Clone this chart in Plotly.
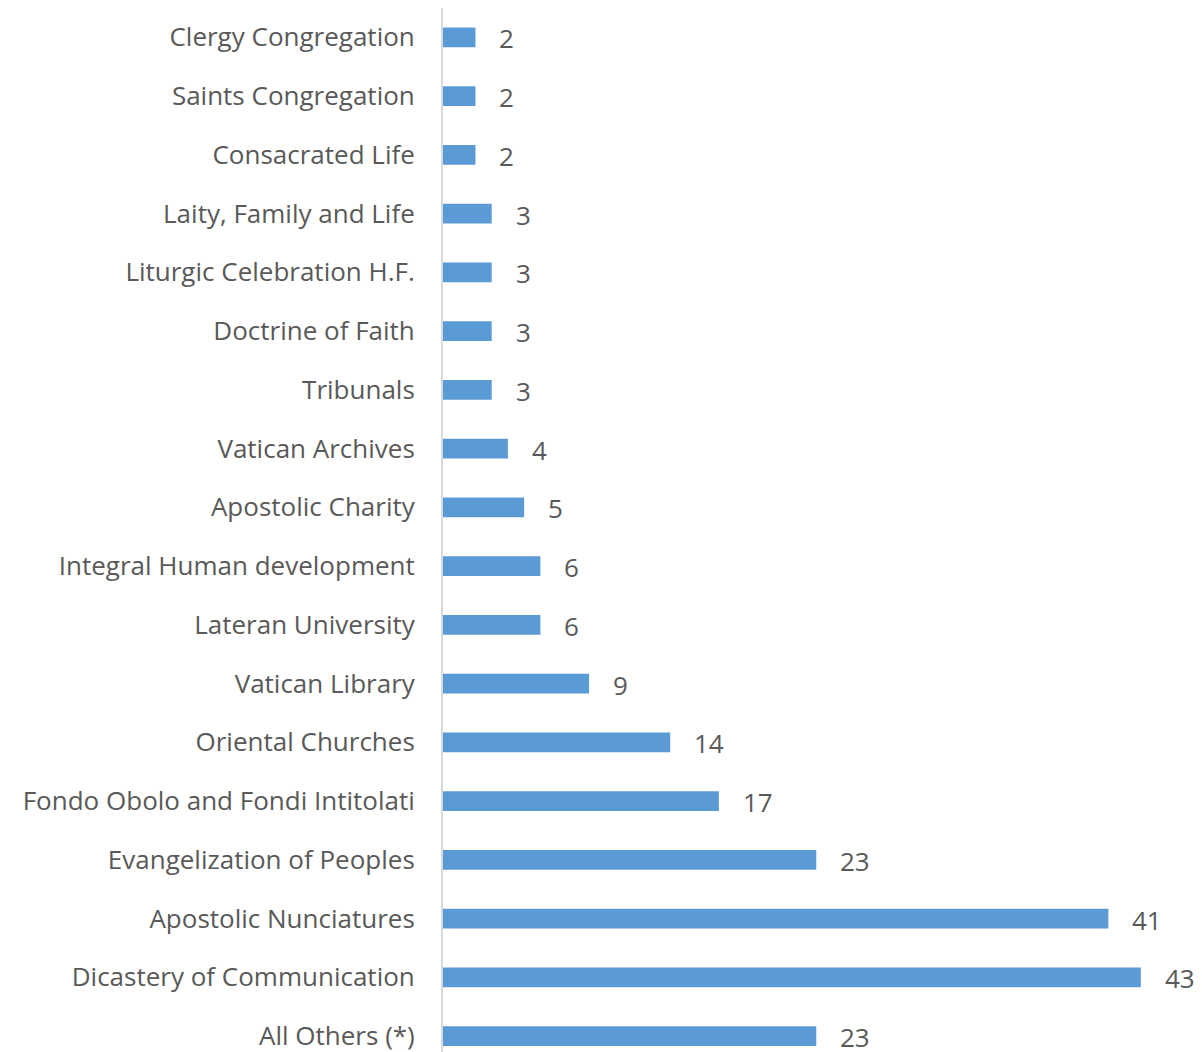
import plotly.graph_objects as go

categories = [
    "Clergy Congregation", "Saints Congregation", "Consacrated Life",
    "Laity, Family and Life", "Liturgic Celebration H.F.", "Doctrine of Faith",
    "Tribunals", "Vatican Archives", "Apostolic Charity",
    "Integral Human development", "Lateran University", "Vatican Library",
    "Oriental Churches", "Fondo Obolo and Fondi Intitolati",
    "Evangelization of Peoples", "Apostolic Nunciatures",
    "Dicastery of Communication", "All Others (*)",
]
values = [2, 2, 2, 3, 3, 3, 3, 4, 5, 6, 6, 9, 14, 17, 23, 41, 43, 23]

BAR = "#5B9BD5"
TXT = "#595959"
FONT = "Open Sans"
FS = 26

fig = go.Figure(go.Bar(
    x=values, y=categories, orientation="h",
    marker=dict(color=BAR, line=dict(width=0)),
    width=0.34,
    hoverinfo="x+y",
))

for c, v in zip(categories, values):
    fig.add_annotation(x=v, y=c, text=str(v), showarrow=False,
                       xanchor="left", yanchor="middle", xshift=23, yshift=-1,
                       borderpad=0,
                       font=dict(family=FONT, size=FS, color=TXT))

fig.update_layout(
    width=1194, height=1044,
    margin=dict(l=435, r=0, t=0, b=0),
    paper_bgcolor="white", plot_bgcolor="white",
    showlegend=False,
    font=dict(family=FONT, size=FS, color=TXT),
    xaxis=dict(range=[0, 46.77], visible=False, showgrid=False, zeroline=False),
    yaxis=dict(
        categoryorder="array", categoryarray=categories,
        range=[17.27, -0.5],
        showline=True, linecolor="#D9D9D9", linewidth=2,
        showgrid=False, zeroline=False, ticks="",
        ticklabelstandoff=21,
        tickfont=dict(family=FONT, size=FS, color=TXT),
    ),
)

fig.write_html("out.html")
